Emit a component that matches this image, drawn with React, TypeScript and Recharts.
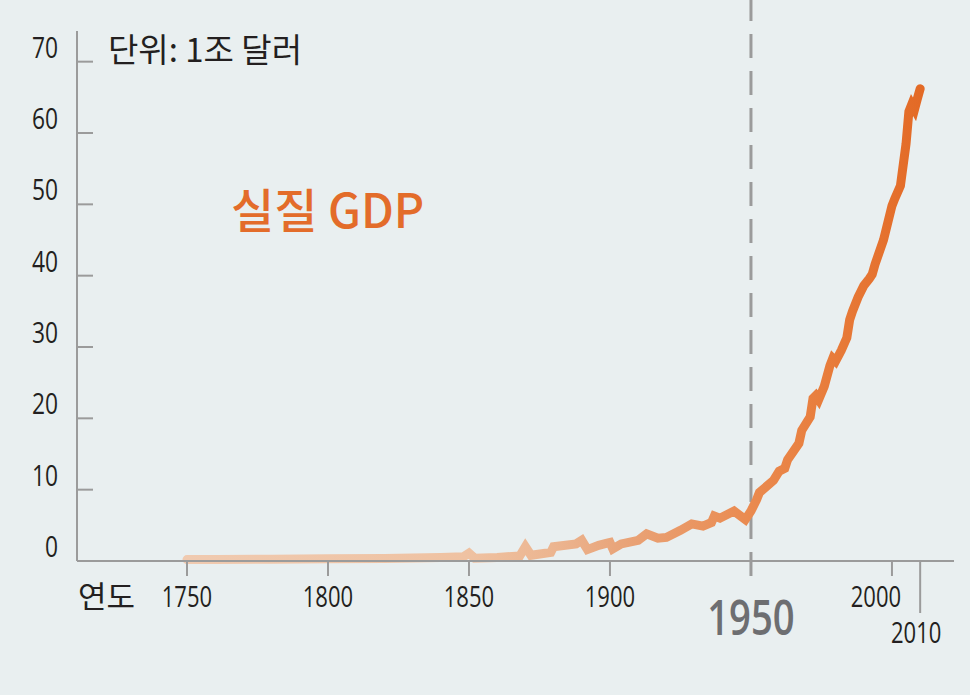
import React from 'react';
import { LineChart, Line, XAxis, YAxis, ReferenceLine } from 'recharts';

// real GDP, trillion dollars
const years = [
  1750, 1760, 1780, 1800, 1820, 1840, 1848, 1850, 1852, 1860, 1868, 1870, 1872, 1879, 1880,
  1888, 1890, 1892, 1896, 1899, 1900, 1901, 1904, 1910, 1913, 1917, 1920, 1925, 1929, 1933,
  1936, 1937, 1939, 1944, 1948, 1950, 1952, 1953, 1958, 1960, 1962, 1963, 1967, 1968, 1971,
  1972, 1973, 1974, 1976, 1978, 1979, 1980, 1982, 1984, 1985, 1986, 1988, 1990, 1992, 1993,
  1994, 1997, 2000, 2001, 2003, 2005, 2006, 2007, 2008, 2009, 2010,
];
const gdp = [
  0.2, 0.2, 0.25, 0.3, 0.35, 0.5, 0.6, 1.1, 0.4, 0.5, 0.7, 2.0, 0.8, 1.2, 2.0,
  2.4, 2.9, 1.6, 2.2, 2.5, 2.6, 1.7, 2.4, 2.9, 3.8, 3.2, 3.3, 4.3, 5.2, 4.9,
  5.4, 6.3, 6.0, 7.0, 5.8, 7.0, 8.6, 9.6, 11.3, 12.6, 13.0, 14.2, 16.5, 18.3, 20.2,
  22.8, 23.2, 22.6, 24.5, 27.4, 28.4, 28.0, 29.5, 31.3, 33.8, 35.0, 37.0, 38.6, 39.6, 40.2,
  41.6, 45.0, 49.8, 50.8, 52.6, 58.5, 63.0, 64.0, 63.3, 64.8, 66.2,
];

const xTicks = [1750, 1800, 1850, 1900, 1950, 2000, 2010];
const yTicks = [0, 10, 20, 30, 40, 50, 60, 70];

const data = years.map((year, i) => ({ year, gdp: gdp[i] }));

const AXIS = '#9b9b9b';
const NUM_FONT = '"Open Sans", "Noto Sans", sans-serif';
const KR_FONT = '"Noto Sans CJK KR", "Noto Sans", sans-serif';

const YTick = ({ x, y, payload }: any) => (
  <g>
    <line x1={x} y1={y} x2={x + 16} y2={y} stroke={AXIS} strokeWidth={2} />
    <text
      transform={`translate(${x - 19},${y - 4}) scale(0.76,1)`}
      textAnchor="end"
      fontFamily={NUM_FONT}
      fontSize={30}
      fill="#231f20"
    >
      {payload.value}
    </text>
  </g>
);

const XTick = ({ x, y, payload }: any) => {
  const v = payload.value;
  const big = v === 1950;
  const low = v === 2010;
  const dx = v === 2000 ? -16 : v === 2010 ? -4 : 0;
  const baseline = big ? 635 - 561 : low ? 643 - 561 : 607 - 561;
  return (
    <g>
      <line x1={x} y1={y} x2={x} y2={y + (low ? 52 : 15)} stroke={AXIS} strokeWidth={2} />
      <text
        transform={`translate(${x + dx},${y + baseline}) scale(${big ? 0.78 : 0.76},1)`}
        textAnchor="middle"
        fontFamily={NUM_FONT}
        fontSize={big ? 49 : 29}
        fontWeight={big ? 600 : 400}
        fill={big ? '#6d6e71' : '#231f20'}
      >
        {v}
      </text>
    </g>
  );
};

export default function App() {
  return (
    <div style={{ position: 'absolute', left: 0, top: 0, width: 970, height: 695, background: '#e9eff0' }}>
      <LineChart
        width={970}
        height={695}
        data={data}
        margin={{ top: 31, right: 16, left: 17, bottom: 0 }}
      >
        <defs>
          <linearGradient id="gdpGrad" x1="0" y1="0" x2="1" y2="0">
            <stop offset="0%" stopColor="#f0cab0" />
            <stop offset="38%" stopColor="#efc2a2" />
            <stop offset="50%" stopColor="#ecb590" />
            <stop offset="58%" stopColor="#e9a67c" />
            <stop offset="77%" stopColor="#ea8a4f" />
            <stop offset="87%" stopColor="#e87d3c" />
            <stop offset="100%" stopColor="#e36a26" />
          </linearGradient>
        </defs>
        <XAxis
          dataKey="year"
          type="number"
          domain={[1711, 2022]}
          ticks={xTicks}
          interval={0}
          height={134}
          tickSize={0}
          tickMargin={0}
          tickLine={false}
          axisLine={{ stroke: AXIS, strokeWidth: 2 }}
          tick={<XTick />}
        />
        <YAxis
          type="number"
          domain={[0, 74.3]}
          ticks={yTicks}
          interval={0}
          width={60}
          tickSize={0}
          tickMargin={0}
          tickLine={false}
          axisLine={{ stroke: AXIS, strokeWidth: 2 }}
          tick={<YTick />}
        />
        <ReferenceLine
          segment={[{ x: 1950, y: -2.1 }, { x: 1950, y: 78.8 }]}
          ifOverflow="visible"
          stroke="#9b9b9b"
          strokeWidth={3}
          strokeDasharray="24 13"
        />
        <Line
          type="linear"
          dataKey="gdp"
          stroke="url(#gdpGrad)"
          strokeWidth={9}
          strokeLinecap="round"
          strokeLinejoin="miter"
          dot={false}
          activeDot={false}
          isAnimationActive={false}
        />
      </LineChart>
      <svg width={970} height={695} style={{ position: 'absolute', left: 0, top: 0, pointerEvents: 'none' }}>
        <text x={108} y={62} fontFamily={KR_FONT} fontSize={33} fontWeight={400} fill="#231f20">
          단위: 1조 달러
        </text>
        <text x={231} y={228} fontFamily={KR_FONT} fontSize={47} fontWeight={500} fill="#e36c2a">
          실질 GDP
        </text>
        <text x={78} y={608} fontFamily={KR_FONT} fontSize={31} fontWeight={400} fill="#231f20">
          연도
        </text>
      </svg>
    </div>
  );
}
